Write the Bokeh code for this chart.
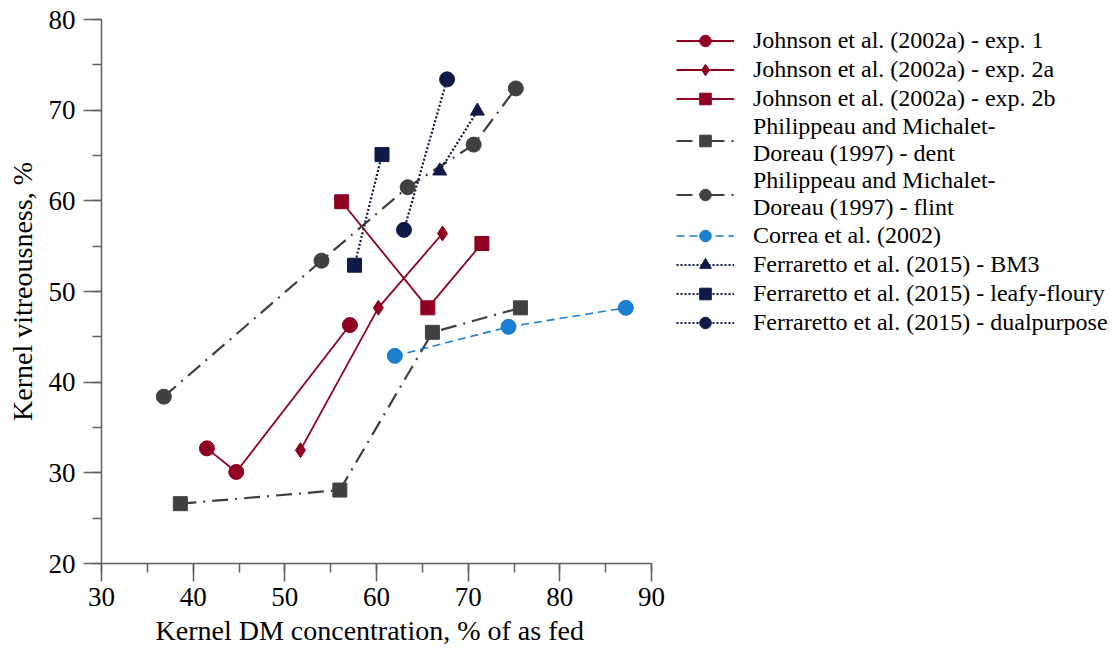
from bokeh.plotting import figure
from bokeh.models import Legend, LegendItem, SingleIntervalTicker, Range1d, Title
from bokeh.embed import file_html
from bokeh.resources import INLINE

# ---- data ----
exp1_x = [41.5, 44.7, 57.1]
exp1_y = [32.7, 30.1, 46.3]
exp2a_x = [51.7, 60.2, 67.2]
exp2a_y = [32.5, 48.2, 56.4]
exp2b_x = [56.2, 65.6, 71.5]
exp2b_y = [59.9, 48.2, 55.3]
dent_x = [38.6, 56.0, 66.1, 75.7]
dent_y = [26.6, 28.1, 45.5, 48.2]
flint_x = [36.8, 54.0, 63.4, 70.6, 75.2]
flint_y = [38.4, 53.4, 61.5, 66.2, 72.4]
correa_x = [62.0, 74.4, 87.2]
correa_y = [42.9, 46.1, 48.2]
bm3_x = [66.9, 71.0]
bm3_y = [63.3, 69.9]
leafy_x = [57.6, 60.6]
leafy_y = [52.9, 65.1]
dual_x = [63.0, 67.7]
dual_y = [56.8, 73.4]

labels = [
    "Johnson et al. (2002a) - exp. 1",
    "Johnson et al. (2002a) - exp. 2a",
    "Johnson et al. (2002a) - exp. 2b",
    "Philippeau and Michalet-\nDoreau (1997) - dent",
    "Philippeau and Michalet-\nDoreau (1997) - flint",
    "Correa et al. (2002)",
    "Ferraretto et al. (2015) - BM3",
    "Ferraretto et al. (2015) - leafy-floury",
    "Ferraretto et al. (2015) - dualpurpose",
]
x_label = "Kernel DM concentration, % of as fed"
y_label = "Kernel vitreousness, %"

RED = "#900020"
GRAY = "#404040"
BLUE = "#1A7FD0"
NAVY = "#0F1A48"
FONT = "Liberation Serif"

# axis spans 30..90 over 550 px; the frame continues to the right edge to hold the legend
W, H = 1118, 654
LEFT, TOP, BOTTOM = 101, 19, 91
AX_PX = 550.0
x_end = 30 + (W - LEFT) * 60 / AX_PX

p = figure(width=W, height=H, output_backend="svg", toolbar_location=None,
           x_range=Range1d(30, x_end), y_range=Range1d(20, 80),
           min_border_left=LEFT, min_border_right=0, min_border_top=TOP,
           min_border_bottom=BOTTOM)
p.outline_line_color = None
p.xgrid.visible = False
p.ygrid.visible = False
p.background_fill_color = "white"

series = [
    (exp1_x, exp1_y, RED, "solid", 1.8, "circle", 15),
    (exp2a_x, exp2a_y, RED, "solid", 1.8, "diamond", 15),
    (exp2b_x, exp2b_y, RED, "solid", 1.8, "square", 14),
    (dent_x, dent_y, GRAY, "16 7 2 7", 2.2, "square", 14),
    (flint_x, flint_y, GRAY, "16 7 2 7", 2.2, "circle", 15),
    (correa_x, correa_y, BLUE, "8 5", 1.6, "circle", 15),
    (bm3_x, bm3_y, NAVY, "2 2", 2.2, "triangle", 14),
    (leafy_x, leafy_y, NAVY, "2 2", 2.2, "square", 14),
    (dual_x, dual_y, NAVY, "2 2", 2.2, "circle", 15),
]

items = []
for (xs, ys, col, dash, lw, mk, sz), lab in zip(series, labels):
    ln = p.line(xs, ys, line_color=col, line_dash=dash, line_width=lw)
    sc = p.scatter(xs, ys, marker=mk, size=sz, fill_color=col, line_color=col)
    items.append(LegendItem(label=lab, renderers=[ln, sc]))

legend = Legend(items=items, location=(575, 226))
legend.border_line_color = None
legend.background_fill_alpha = 0
legend.label_text_font = FONT
legend.label_text_font_size = "24px"
legend.label_text_color = "black"
legend.label_text_line_height = 1.3
legend.glyph_width = 58
legend.glyph_height = 29
legend.label_height = 29
legend.label_standoff = 19
legend.spacing = 0
legend.padding = 4
legend.margin = 0
p.add_layout(legend, "center")

for ax in (p.xaxis[0], p.yaxis[0]):
    ax.axis_line_color = "#606060"
    ax.axis_line_width = 1.5
    ax.major_tick_line_color = "#606060"
    ax.minor_tick_line_color = "#606060"
    ax.major_tick_line_width = 1.5
    ax.minor_tick_line_width = 1.5
    ax.major_tick_out = 18
    ax.major_tick_in = 0
    ax.minor_tick_out = 9
    ax.minor_tick_in = 0
    ax.major_label_text_font = FONT
    ax.major_label_text_font_size = "27px"
    ax.major_label_text_color = "black"
    ax.axis_label_text_font = FONT
    ax.axis_label_text_font_size = "28px"
    ax.axis_label_text_font_style = "normal"
    ax.axis_label_text_color = "black"
    ax.ticker = SingleIntervalTicker(interval=10, num_minor_ticks=2)

p.xaxis.bounds = (30, 90)
p.yaxis.axis_label = y_label
p.xaxis.major_label_standoff = 6
p.yaxis.major_label_standoff = 8
p.yaxis.axis_label_standoff = 8

# x-axis title, centred under the 30..90 span rather than the whole frame
xt = Title(text=x_label, align="left", offset=54, standoff=8,
           text_font=FONT, text_font_size="28px", text_font_style="normal",
           text_color="black")
p.add_layout(xt, "below")

open("out.html", "w").write(file_html(p, INLINE))
